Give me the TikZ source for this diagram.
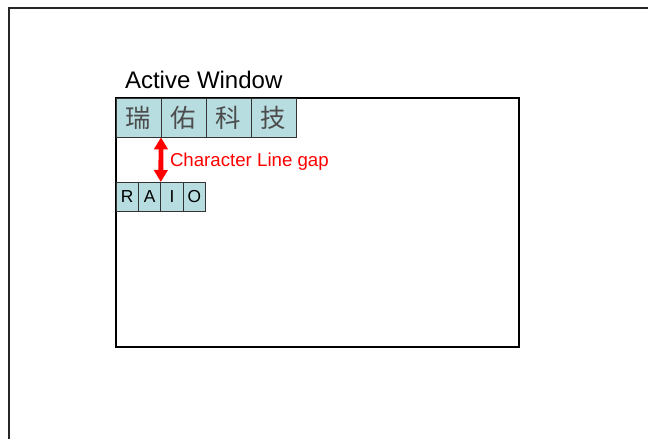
\documentclass[tikz,border=0pt]{standalone}
\usepackage{fontspec}
\setmainfont{Liberation Sans}
\newfontfamily\cjk{Noto Sans CJK TC}
\usetikzlibrary{positioning, arrows.meta}
\definecolor{cellfill}{RGB}{183,221,224}

\begin{document}
\begin{tikzpicture}[x=0.75pt, y=-0.75pt, node distance=0pt,
  every node/.style={inner sep=0pt, outer sep=0pt},
  bigcell/.style={draw=black!80, line width=0.6pt, fill=cellfill, minimum width=33.75pt, minimum height=29.5pt, font=\cjk\fontsize{19}{19}\selectfont, text=black!70},
  smallcell/.style={draw=black!80, line width=0.6pt, fill=cellfill, minimum width=16.8pt, minimum height=21.8pt, font=\fontsize{13}{13}\selectfont}]
  \useasboundingbox (0,0) rectangle (648,439);
  \draw[line width=1.1pt, black!85] (9,439) -- (9,8) -- (648,8);

  \node (window) [draw, line width=0.9pt, anchor=north west, minimum width=302.25pt, minimum height=186.75pt] at (116,98) {};
  \node (title) [anchor=base west, font=\fontsize{18}{18}\selectfont] at (125,88) {Active Window};

  \node (c1) [bigcell, anchor=north west] at (116,98) {瑞};
  \node (c2) [bigcell, right=of c1] {佑};
  \node (c3) [bigcell, right=of c2] {科};
  \node (c4) [bigcell, right=of c3] {技};

  \node (r1) [smallcell, anchor=north west] at (116,182) {R};
  \node (r2) [smallcell, right=of r1] {A};
  \node (r3) [smallcell, right=of r2] {I};
  \node (r4) [smallcell, right=of r3] {O};

  \draw[red, line width=3.6pt, {Triangle[length=9pt,width=10pt]}-{Triangle[length=9pt,width=10pt]}] (c1.south east) -- (r2.north east);
  \node (gaplabel) [anchor=base west, text=red, font=\fontsize{14}{14}\selectfont] at (170,166.5) {Character Line gap};
\end{tikzpicture}
\end{document}
